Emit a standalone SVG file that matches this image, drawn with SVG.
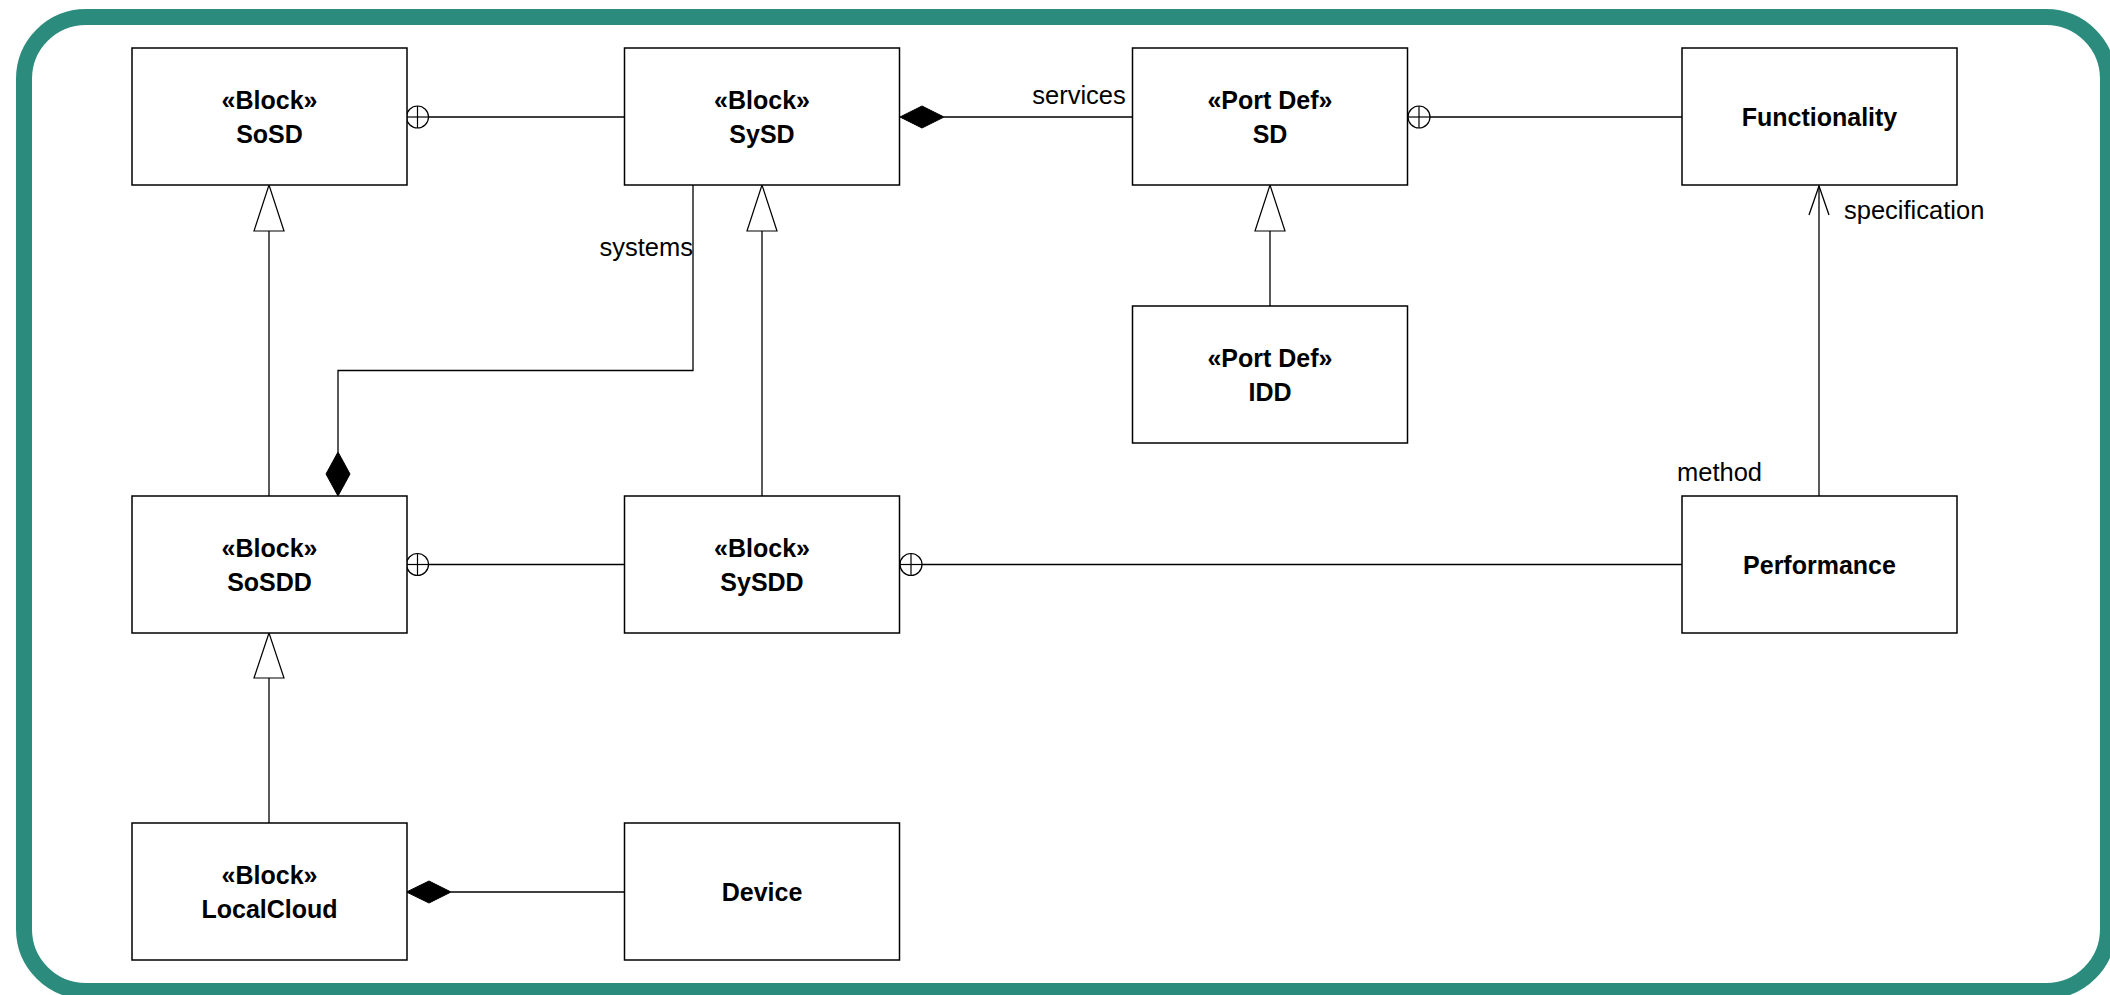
<svg xmlns="http://www.w3.org/2000/svg" width="2110" height="995" viewBox="0 0 2110 995">
<style>
.box{fill:#fff;stroke:#000;stroke-width:1.5}
.t{font-family:"Liberation Sans",Arial,sans-serif;font-size:25px;font-weight:bold;text-anchor:middle;fill:#000}
.lbl{font-family:"Liberation Sans",Arial,sans-serif;font-size:25.5px;fill:#000}
.ln{fill:none;stroke:#000;stroke-width:1.3}
.dia{fill:#000;stroke:#000;stroke-width:1}
.tri{fill:#fff;stroke:#000;stroke-width:1.2}
</style>
<defs>
<g id="cplus"><circle cx="0" cy="0" r="11" fill="#fff" stroke="#000" stroke-width="1.2"/><line x1="-11" y1="0" x2="11" y2="0" stroke="#000" stroke-width="1.2"/><line x1="0" y1="-11" x2="0" y2="11" stroke="#000" stroke-width="1.2"/></g>
</defs>
<rect x="24" y="17" width="2084" height="974" rx="62" ry="62" fill="#fff" stroke="#2b8c7e" stroke-width="16"/>

<g id="connectors">
<line class="ln" x1="428" y1="117" x2="624" y2="117"/>
<use href="#cplus" x="417.5" y="117"/>
<line class="ln" x1="944" y1="117" x2="1132" y2="117"/>
<polygon class="dia" points="900,117 922,106 944,117 922,128"/>
<line class="ln" x1="1430" y1="117" x2="1682" y2="117"/>
<use href="#cplus" x="1419" y="117"/>
<polyline class="ln" points="693,185 693,370.5 338,370.5 338,452"/>
<polygon class="dia" points="338,452 350,474 338,496 326,474"/>
<line class="ln" x1="269" y1="231" x2="269" y2="496"/>
<polygon class="tri" points="269,185 284,231 254,231"/>
<line class="ln" x1="762" y1="231" x2="762" y2="496"/>
<polygon class="tri" points="762,185 777,231 747,231"/>
<line class="ln" x1="1270" y1="231" x2="1270" y2="306"/>
<polygon class="tri" points="1270,185 1285,231 1255,231"/>
<line class="ln" x1="269" y1="678" x2="269" y2="823"/>
<polygon class="tri" points="269,633 284,678 254,678"/>
<line class="ln" x1="428" y1="564.5" x2="624" y2="564.5"/>
<use href="#cplus" x="417.5" y="564.5"/>
<line class="ln" x1="922" y1="564.5" x2="1682" y2="564.5"/>
<use href="#cplus" x="911" y="564.5"/>
<line class="ln" x1="1819" y1="186" x2="1819" y2="496"/>
<polyline class="ln" points="1809,215 1819,186 1829,215"/>
<line class="ln" x1="451" y1="892" x2="624" y2="892"/>
<polygon class="dia" points="406.5,892 429,881 451,892 429,903"/>
<text class="lbl" x="693" y="256" text-anchor="end">systems</text>
<text class="lbl" x="1079" y="104" text-anchor="middle">services</text>
<text class="lbl" x="1844" y="219">specification</text>
<text class="lbl" x="1677" y="480.5">method</text>
</g>

<g id="SoSD"><rect class="box" x="132" y="48" width="275" height="137"/><text class="t" x="269.5" y="109">«Block»</text><text class="t" x="269.5" y="143">SoSD</text></g>
<g id="SySD"><rect class="box" x="624.5" y="48" width="275" height="137"/><text class="t" x="762" y="109">«Block»</text><text class="t" x="762" y="143">SySD</text></g>
<g id="SD"><rect class="box" x="1132.5" y="48" width="275" height="137"/><text class="t" x="1270" y="109">«Port Def»</text><text class="t" x="1270" y="143">SD</text></g>
<g id="Functionality"><rect class="box" x="1682" y="48" width="275" height="137"/><text class="t" x="1819.5" y="125.5">Functionality</text></g>
<g id="IDD"><rect class="box" x="1132.5" y="306" width="275" height="137"/><text class="t" x="1270" y="367">«Port Def»</text><text class="t" x="1270" y="401">IDD</text></g>
<g id="SoSDD"><rect class="box" x="132" y="496" width="275" height="137"/><text class="t" x="269.5" y="557">«Block»</text><text class="t" x="269.5" y="591">SoSDD</text></g>
<g id="SySDD"><rect class="box" x="624.5" y="496" width="275" height="137"/><text class="t" x="762" y="557">«Block»</text><text class="t" x="762" y="591">SySDD</text></g>
<g id="Performance"><rect class="box" x="1682" y="496" width="275" height="137"/><text class="t" x="1819.5" y="573.5">Performance</text></g>
<g id="LocalCloud"><rect class="box" x="132" y="823" width="275" height="137"/><text class="t" x="269.5" y="884">«Block»</text><text class="t" x="269.5" y="918">LocalCloud</text></g>
<g id="Device"><rect class="box" x="624.5" y="823" width="275" height="137"/><text class="t" x="762" y="900.5">Device</text></g>
</svg>
